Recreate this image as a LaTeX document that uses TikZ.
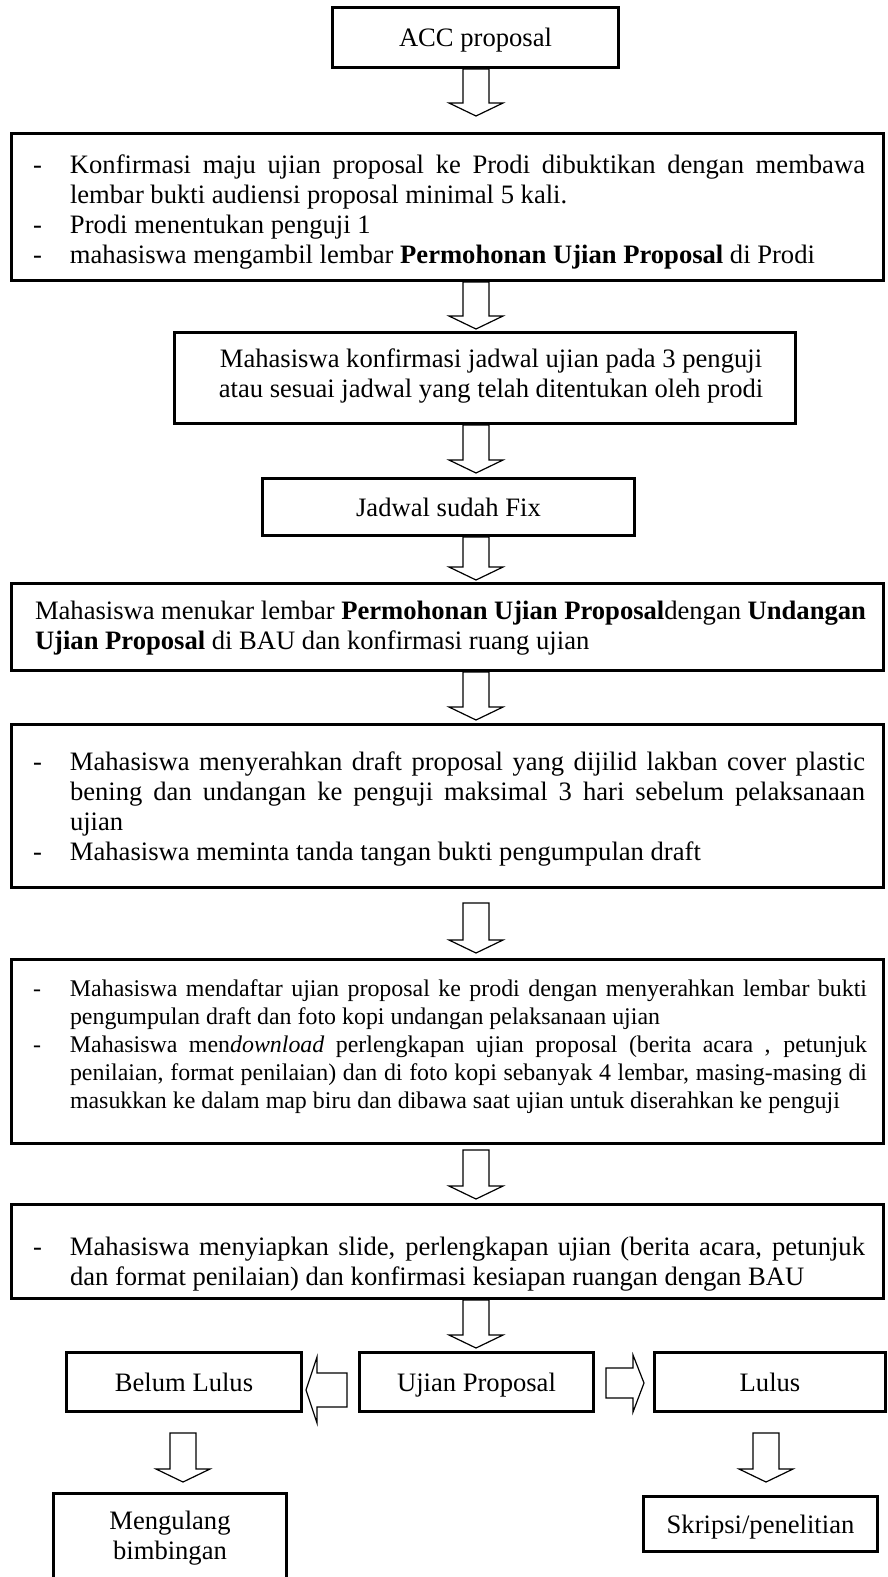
\documentclass[tikz,border=0pt]{standalone}
\usepackage{fontspec}
\setmainfont{Liberation Serif}
\newcommand\itm[1]{\par\noindent\hangindent=37pt\hangafter=1\makebox[37pt][l]{-}#1\par}
\newcommand\vblock[3]{\draw[blk] ({#1-13},#2) -- ({#1-13},{#3-13}) -- ({#1-27},{#3-13}) -- (#1,#3) -- ({#1+27},{#3-13}) -- ({#1+13},{#3-13}) -- ({#1+13},#2) -- cycle;}
\tikzset{
  box/.style={draw, line width=3.2pt, inner sep=0pt, fill=white},
  lbl/.style={text height=20pt, text depth=2pt},
  blk/.style={draw, line width=1.2pt, line join=miter, fill=white},
  big/.style={font=\fontsize{26.6}{30}\selectfont},
  small/.style={font=\fontsize{23.9}{28}\selectfont},
  txt/.style={inner sep=0pt, execute at begin node={\hyphenpenalty=10000\exhyphenpenalty=10000}},
}
\begin{document}
\begin{tikzpicture}[x=1pt,y=-1pt]
\useasboundingbox (0,0) rectangle (888,1577);
\clip (0,0) rectangle (888,1577);
\fill[white] (0,0) rectangle (888,1577);
% boxes
\node[box, big, lbl, minimum width=286, minimum height=60] (b1) at (475.5,37.5) {ACC proposal};
\node[box, minimum width=872, minimum height=147] (b2) at (447.5,207) {};
\node[box, minimum width=621, minimum height=91] (b3) at (485,378) {};
\node[box, big, lbl, minimum width=372, minimum height=57] (b4) at (448.5,507) {Jadwal sudah Fix};
\node[box, minimum width=872, minimum height=87] (b5) at (447.5,627) {};
\node[box, minimum width=872, minimum height=163] (b6) at (447.5,806) {};
\node[box, minimum width=872, minimum height=184] (b7) at (447.5,1051.5) {};
\node[box, minimum width=872, minimum height=94] (b8) at (447.5,1251.5) {};
\node[box, big, lbl, minimum width=235, minimum height=59] (bl) at (184,1382) {Belum Lulus};
\node[box, big, lbl, minimum width=234, minimum height=59] (up) at (476.5,1382) {Ujian Proposal};
\node[box, big, lbl, minimum width=231, minimum height=59] (ll) at (770,1382) {Lulus};
\node[box, minimum width=233, minimum height=125] (mg) at (170,1556) {};
\node[box, big, lbl, minimum width=234, minimum height=55] (sk) at (760.5,1524) {Skripsi/penelitian};
% texts
\node[txt, big, text width=832, align=justify] (t2) at (449,206) {%
\itm{Konfirmasi maju ujian proposal ke Prodi dibuktikan dengan membawa lembar bukti audiensi proposal minimal 5 kali.}%
\itm{Prodi menentukan penguji 1}%
\itm{mahasiswa mengambil lembar \textbf{Permohonan Ujian Proposal} di Prodi}};
\node[txt, big, align=center] (t3) at (491,376) {Mahasiswa konfirmasi jadwal ujian pada 3 penguji\\atau sesuai jadwal yang telah ditentukan oleh prodi};
\node[txt, big, text width=831, align=justify] (t5) at (450.5,628) {%
Mahasiswa menukar lembar \textbf{Permohonan Ujian Proposal}dengan \textbf{Undangan Ujian Proposal} di BAU dan konfirmasi ruang ujian};
\node[txt, big, text width=832, align=justify] (t6) at (449,803) {%
\itm{Mahasiswa menyerahkan draft proposal yang dijilid lakban cover plastic bening dan undangan ke penguji maksimal 3 hari sebelum pelaksanaan\linebreak ujian}%
\itm{Mahasiswa meminta tanda tangan bukti pengumpulan draft}};
\node[txt, small, text width=834, align=justify] (t7) at (450,1041) {%
\itm{Mahasiswa mendaftar ujian proposal ke prodi dengan menyerahkan lembar bukti pengumpulan draft dan foto kopi undangan pelaksanaan ujian}%
\itm{Mahasiswa men\textit{download} perlengkapan ujian proposal (berita acara , petunjuk penilaian, format penilaian) dan di foto kopi sebanyak 4 lembar, masing-masing di masukkan ke dalam map biru dan dibawa saat ujian untuk diserahkan ke penguji}};
\node[txt, big, text width=832, align=justify] (t8) at (449,1258) {%
\itm{Mahasiswa menyiapkan slide, perlengkapan ujian (berita acara, petunjuk dan format penilaian) dan konfirmasi kesiapan ruangan dengan BAU}};
\node[txt, big, align=center] (tm) at (170,1538) {Mengulang\\bimbingan};
% block arrows
\vblock{476}{69}{116}
\vblock{476}{282}{329}
\vblock{476}{425}{473}
\vblock{476}{537}{580}
\vblock{476}{672}{720}
\vblock{476}{903}{953}
\vblock{476}{1150}{1199}
\vblock{476}{1300}{1348}
\vblock{183}{1433}{1482}
\vblock{766}{1433}{1482}
\draw[blk] (347,1373) -- (317,1373) -- (317,1357) -- (306,1390) -- (317,1423) -- (317,1407) -- (347,1407) -- cycle;
\draw[blk] (606,1368) -- (633,1368) -- (633,1355) -- (644,1383) -- (633,1412) -- (633,1398) -- (606,1398) -- cycle;
\end{tikzpicture}
\end{document}
